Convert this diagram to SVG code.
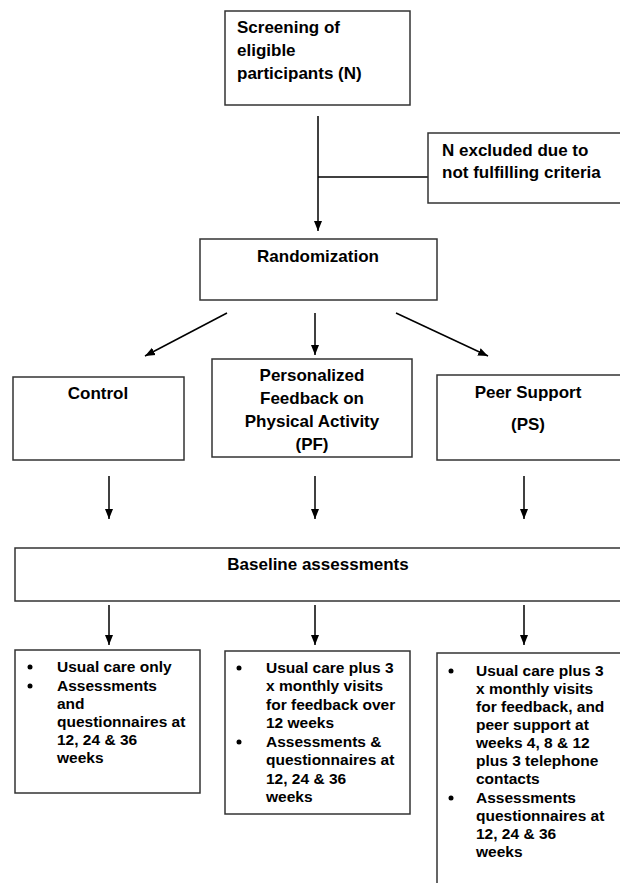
<svg xmlns="http://www.w3.org/2000/svg" width="620" height="883" viewBox="0 0 620 883">
<style>
.box{fill:#fff;stroke:#333;stroke-width:1.5}
.t{font-family:"Liberation Sans",Arial,sans-serif;font-weight:bold;font-size:17px;fill:#000}
.s{font-family:"Liberation Sans",Arial,sans-serif;font-weight:bold;font-size:15.5px;fill:#000}
.c{text-anchor:middle}
.ln{stroke:#000;stroke-width:1.5;fill:none}
.arr{marker-end:url(#ah)}
.b{fill:#000}
</style>
<defs>
<marker id="ah" viewBox="0 0 10 10" refX="10" refY="5" markerWidth="10" markerHeight="10" markerUnits="userSpaceOnUse" orient="auto">
<path d="M0,1 L10,5 L0,9 Z" fill="#000"/>
</marker>
</defs>
<rect width="620" height="883" fill="#fff"/>
<g id="connectors">
<line class="ln arr" x1="318" y1="116" x2="318" y2="231"/>
<line class="ln" x1="318" y1="177" x2="428" y2="177"/>
<line class="ln arr" x1="227" y1="313" x2="145" y2="356"/>
<line class="ln arr" x1="315" y1="313" x2="315" y2="355"/>
<line class="ln arr" x1="396" y1="313" x2="488" y2="356"/>
<line class="ln arr" x1="109" y1="476" x2="109" y2="519"/>
<line class="ln arr" x1="315" y1="476" x2="315" y2="519"/>
<line class="ln arr" x1="524" y1="476" x2="524" y2="519"/>
<line class="ln arr" x1="109" y1="605" x2="109" y2="645"/>
<line class="ln arr" x1="315" y1="605" x2="315" y2="645"/>
<line class="ln arr" x1="524" y1="605" x2="524" y2="645"/>
</g>
<g id="screening">
<rect class="box" x="225" y="11" width="185" height="94"/>
<text class="t" x="237" y="33">Screening of</text>
<text class="t" x="237" y="56">eligible</text>
<text class="t" x="237" y="79">participants (N)</text>
</g>
<g id="excluded">
<rect class="box" x="428" y="133" width="194" height="70"/>
<text class="t" x="442" y="156">N excluded due to</text>
<text class="t" x="442" y="178">not fulfilling criteria</text>
</g>
<g id="randomization">
<rect class="box" x="200" y="239" width="237" height="61"/>
<text class="t c" x="318" y="262">Randomization</text>
</g>
<g id="control">
<rect class="box" x="13" y="377" width="171" height="83"/>
<text class="t c" x="98" y="399">Control</text>
</g>
<g id="pf">
<rect class="box" x="212" y="359" width="200" height="98"/>
<text class="t c" x="312" y="381">Personalized</text>
<text class="t c" x="312" y="404">Feedback on</text>
<text class="t c" x="312" y="427">Physical Activity</text>
<text class="t c" x="312" y="450">(PF)</text>
</g>
<g id="ps">
<rect class="box" x="437" y="375" width="185" height="85"/>
<text class="t c" x="528" y="398">Peer Support</text>
<text class="t c" x="528" y="430">(PS)</text>
</g>
<g id="baseline">
<rect class="box" x="15" y="548" width="607" height="53"/>
<text class="t c" x="318" y="570">Baseline assessments</text>
</g>
<g id="control-detail">
<rect class="box" x="15" y="650" width="185" height="143"/>
<circle class="b" cx="30" cy="667" r="2.5"/>
<circle class="b" cx="30" cy="686" r="2.5"/>
<text class="s" x="57" y="672">Usual care only</text>
<text class="s" x="57" y="691">Assessments</text>
<text class="s" x="57" y="709">and</text>
<text class="s" x="57" y="727">questionnaires at</text>
<text class="s" x="57" y="745">12, 24 &amp; 36</text>
<text class="s" x="57" y="763">weeks</text>
</g>
<g id="pf-detail">
<rect class="box" x="225" y="651" width="185" height="163"/>
<circle class="b" cx="239" cy="668" r="2.5"/>
<circle class="b" cx="239" cy="742" r="2.5"/>
<text class="s" x="266" y="673">Usual care plus 3</text>
<text class="s" x="266" y="691">x monthly visits</text>
<text class="s" x="266" y="710">for feedback over</text>
<text class="s" x="266" y="728">12 weeks</text>
<text class="s" x="266" y="747">Assessments &amp;</text>
<text class="s" x="266" y="765">questionnaires at</text>
<text class="s" x="266" y="784">12, 24 &amp; 36</text>
<text class="s" x="266" y="802">weeks</text>
</g>
<g id="ps-detail">
<rect class="box" x="437" y="653" width="185" height="235"/>
<circle class="b" cx="451" cy="671" r="2.5"/>
<circle class="b" cx="451" cy="798" r="2.5"/>
<text class="s" x="476" y="676">Usual care plus 3</text>
<text class="s" x="476" y="694">x monthly visits</text>
<text class="s" x="476" y="712">for feedback, and</text>
<text class="s" x="476" y="730">peer support at</text>
<text class="s" x="476" y="748">weeks 4, 8 &amp; 12</text>
<text class="s" x="476" y="766">plus 3 telephone</text>
<text class="s" x="476" y="784">contacts</text>
<text class="s" x="476" y="803">Assessments</text>
<text class="s" x="476" y="821">questionnaires at</text>
<text class="s" x="476" y="839">12, 24 &amp; 36</text>
<text class="s" x="476" y="857">weeks</text>
</g>
</svg>
